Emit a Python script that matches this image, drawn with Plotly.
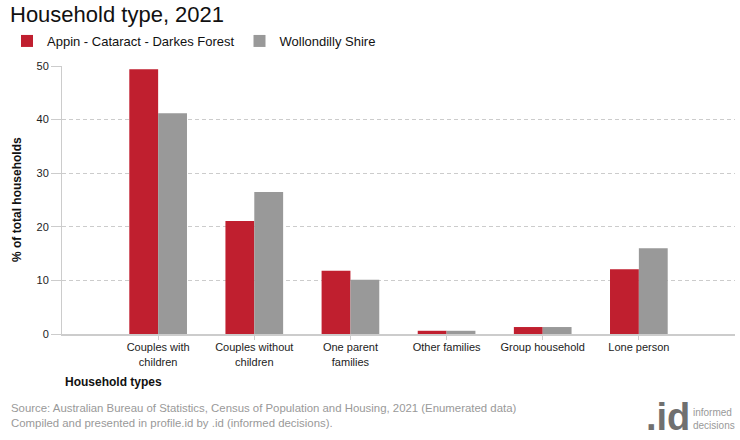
import plotly.graph_objects as go

categories = ["Couples with<br>children", "Couples without<br>children", "One parent<br>families",
              "Other families", "Group household", "Lone person"]
appin = [49.4, 21.1, 11.8, 0.6, 1.3, 12.1]
wollondilly = [41.2, 26.5, 10.1, 0.6, 1.3, 16.0]
series_names = ["Appin - Cataract - Darkes Forest", "Wollondilly Shire"]
y_ticks = [0, 10, 20, 30, 40, 50]

RED = "#C01F2F"
GREY = "#999999"
FONT = "Liberation Sans, Arial, sans-serif"

W, H = 740, 440
ML, MR, MT, MB = 62, 5, 66, 106
PW = W - ML - MR
PH = H - MT - MB


def px_x(x):
    return (x - ML) / PW


def px_y(y):
    return (H - MB - y) / PH


xpos = list(range(1, len(categories) + 1))

fig = go.Figure()
fig.add_trace(go.Bar(x=xpos, y=appin, name=series_names[0], marker_color=RED,
                     marker_line_width=0))
fig.add_trace(go.Bar(x=xpos, y=wollondilly, name=series_names[1], marker_color=GREY,
                     marker_line_width=0))

fig.update_layout(
    width=W, height=H,
    margin=dict(l=ML, r=MR, t=MT, b=MB),
    paper_bgcolor="white", plot_bgcolor="white",
    barmode="group", bargap=0.4, bargroupgap=0,
    font=dict(family=FONT, size=11, color="#222"),
    showlegend=True,
    legend=dict(orientation="h", x=px_x(7), y=px_y(41), yanchor="middle",
                xanchor="left", font=dict(size=13, color="#111", family=FONT),
                itemwidth=30, tracegroupgap=0, bgcolor="rgba(0,0,0,0)"),
    title=dict(text="Household type, 2021", x=10 / W, xanchor="left", xref="container",
               y=1 - 14 / H, yanchor="middle", yref="container",
               font=dict(size=22, color="#111", family=FONT)),
)

fig.update_xaxes(
    range=[0, len(categories) + 1],
    tickmode="array", tickvals=xpos, ticktext=categories,
    showline=True, linecolor="#cccccc", linewidth=2,
    ticks="outside", ticklen=4, tickcolor="#cccccc", tickwidth=1,
    ticklabelstandoff=-2,
    showgrid=False, zeroline=False,
    tickfont=dict(size=11, color="#222", family=FONT),
)
fig.update_yaxes(
    range=[0, 50],
    tickmode="array", tickvals=y_ticks,
    showline=True, linecolor="#cccccc", linewidth=1,
    ticks="outside", ticklen=10, tickcolor="#cccccc",
    showgrid=True, gridcolor="#cccccc", griddash="4px,3px", gridwidth=1,
    zeroline=False,
    tickfont=dict(size=11, color="#222", family=FONT),
)

fig.add_annotation(text="<b>% of total households</b>", x=px_x(17), xref="paper",
                   y=0.5, yref="paper", xanchor="center", yanchor="middle",
                   showarrow=False, textangle=-90,
                   font=dict(size=12, color="#111", family=FONT))
fig.add_annotation(text="<b>Household types</b>", x=px_x(63), xref="paper",
                   y=px_y(382), yref="paper", xanchor="left", yanchor="middle",
                   showarrow=False, font=dict(size=12, color="#111", family=FONT))
fig.add_annotation(text="Source: Australian Bureau of Statistics, Census of Population and Housing, 2021 (Enumerated data)<br>"
                        "Compiled and presented in profile.id by .id (informed decisions).",
                   x=px_x(9), xref="paper", y=px_y(415), yref="paper",
                   xanchor="left", yanchor="middle", align="left", showarrow=False,
                   font=dict(size=11.4, color="#999999", family=FONT))
fig.add_annotation(text="<b>.id</b>", x=px_x(692), xref="paper",
                   y=px_y(417), yref="paper", xanchor="right", yanchor="middle",
                   showarrow=False,
                   font=dict(size=38, color="#707070", family="Liberation Sans", weight="bold"))
fig.add_annotation(text="informed<br>decisions", x=px_x(691), xref="paper",
                   y=px_y(419), yref="paper", xanchor="left", yanchor="middle",
                   align="left", showarrow=False,
                   font=dict(size=10, color="#999999", family=FONT))

fig.write_html("out.html",
               config={"displayModeBar": False},
               post_script="document.body.style.margin='0';document.body.style.padding='0';")
